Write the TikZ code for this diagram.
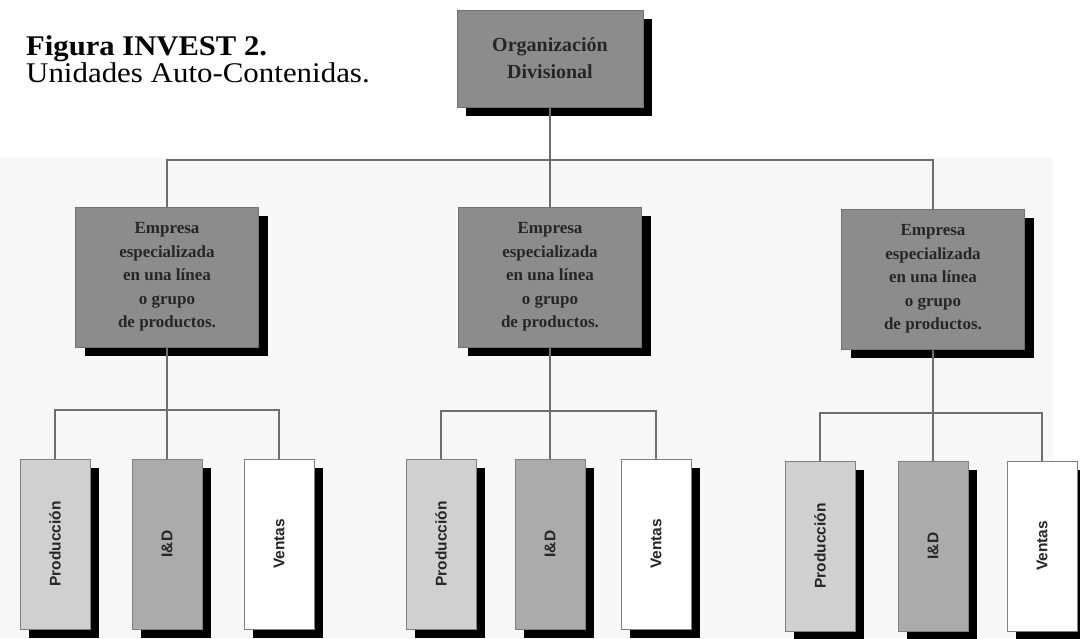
\documentclass[tikz,border=0pt]{standalone}
\usepackage{fontspec}
\setmainfont{Liberation Serif}
\newfontfamily\arialf{Liberation Sans}
\usetikzlibrary{shadows}
\definecolor{boxgray}{HTML}{8C8C8C}
\definecolor{prodgray}{HTML}{D0D0D0}
\definecolor{idgray}{HTML}{ABABAB}
\definecolor{linegray}{HTML}{6E6E6E}
\definecolor{bggray}{HTML}{F7F7F7}
\begin{document}
\begin{tikzpicture}[x=1pt,y=-1pt,
  shadowed/.style={drop shadow={shadow xshift=9pt, shadow yshift=-9pt, fill=black, opacity=1}},
  graybox/.style={shadowed, draw=black!55, fill=boxgray, line width=0.8pt, inner sep=0pt, align=center, text=black!85},
  topbox/.style={graybox, minimum width=186pt, minimum height=97pt, font=\bfseries\fontsize{20}{27}\selectfont},
  midbox/.style={graybox, minimum width=183pt, minimum height=140pt, font=\bfseries\fontsize{17}{23.5}\selectfont},
  lowbox/.style={shadowed, draw=black!50, line width=0.8pt, inner sep=0pt, minimum width=70pt, minimum height=170pt, font=\arialf\bfseries\fontsize{15.5}{15.5}\selectfont, text=black!85},
  prodbox/.style={lowbox, fill=prodgray},
  idbox/.style={lowbox, fill=idgray},
  ventbox/.style={lowbox, fill=white},
  conn/.style={draw=linegray, line width=2pt},
  titlebold/.style={anchor=base west, inner sep=0pt, font=\bfseries\fontsize{28.5}{28.5}\selectfont},
  titlereg/.style={anchor=base west, inner sep=0pt, font=\fontsize{28.5}{28.5}\selectfont}
]
\useasboundingbox (0,0) rectangle (1080,638);
\fill[bggray] (0,158) rectangle (1053,638);

% title
\node[titlebold] (t1) at (26,55) {\scalebox{1.075}[1]{Figura INVEST 2.}};
\node[titlereg] (t2) at (26,82) {\scalebox{1.085}[1]{Unidades Auto-Contenidas.}};

% top
\node[topbox] (top) at (550,58.5) {Organización\\Divisional};

% middle level
\node[midbox] (m1) at (167,277) {Empresa\\especializada\\en una línea\\o grupo\\de productos.};
\node[midbox] (m2) at (550,277) {Empresa\\especializada\\en una línea\\o grupo\\de productos.};
\node[midbox] (m3) at (933,279) {Empresa\\especializada\\en una línea\\o grupo\\de productos.};

% bottom level
\node[prodbox] (p1) at (55,544) {\rotatebox{90}{Producción}};
\node[idbox]   (d1) at (167,544) {\rotatebox{90}{I\&D}};
\node[ventbox] (v1) at (279,544) {\rotatebox{90}{Ventas}};

\node[prodbox] (p2) at (441,544) {\rotatebox{90}{Producción}};
\node[idbox]   (d2) at (550,544) {\rotatebox{90}{I\&D}};
\node[ventbox] (v2) at (656,544) {\rotatebox{90}{Ventas}};

\node[prodbox] (p3) at (820,546) {\rotatebox{90}{Producción}};
\node[idbox]   (d3) at (933,546) {\rotatebox{90}{I\&D}};
\node[ventbox] (v3) at (1042,546) {\rotatebox{90}{Ventas}};

% connectors
\coordinate (bus0) at (550,160);
\coordinate (bus1) at (167,410);
\coordinate (bus2) at (550,411);
\coordinate (bus3) at (933,413);

\draw[conn] (top.south) -- (m2.north);
\draw[conn] (m1.north) |- (bus0) -| (m3.north);

\draw[conn] (m1.south) -- (d1.north);
\draw[conn] (p1.north) |- (bus1) -| (v1.north);

\draw[conn] (m2.south) -- (d2.north);
\draw[conn] (p2.north) |- (bus2) -| (v2.north);

\draw[conn] (m3.south) -- (d3.north);
\draw[conn] (p3.north) |- (bus3) -| (v3.north);
\end{tikzpicture}
\end{document}
